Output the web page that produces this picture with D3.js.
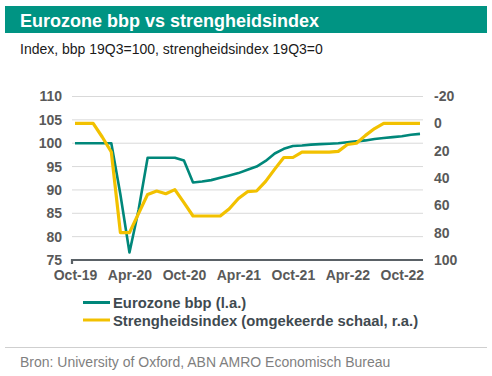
<!DOCTYPE html>
<html><head><meta charset="utf-8">
<script src="https://cdn.jsdelivr.net/npm/d3@7"></script>
<style>
html,body{margin:0;padding:0;background:#fff;}
text{font-family:"Liberation Sans",Arial,sans-serif;}
</style></head><body>
<svg id="c" width="492" height="376"></svg>
<script>
const months = ["Oct-19","Nov-19","Dec-19","Jan-20","Feb-20","Mar-20","Apr-20","May-20","Jun-20","Jul-20","Aug-20","Sep-20",
"Oct-20","Nov-20","Dec-20","Jan-21","Feb-21","Mar-21","Apr-21","May-21","Jun-21","Jul-21","Aug-21","Sep-21",
"Oct-21","Nov-21","Dec-21","Jan-22","Feb-22","Mar-22","Apr-22","May-22","Jun-22","Jul-22","Aug-22","Sep-22",
"Oct-22","Nov-22","Dec-22"];
const gdp = [100,100,100,100,100,89,76.6,85.7,96.9,96.9,96.9,96.9,
96.3,91.6,91.8,92.1,92.6,93.1,93.6,94.3,95.0,96.2,97.8,98.8,
99.4,99.5,99.7,99.8,99.9,100.0,100.2,100.4,100.6,100.9,101.1,101.3,
101.5,101.8,102.0];
const stringency = [0,0,0,10,21,80,80,66,52,49.5,51.5,48.5,
58,67.8,67.8,67.8,67.8,62.5,55,50,49.5,42.5,33.5,25,
25,21,21,21,21,20.5,15.5,14.6,8.8,3.8,0,0,
0,0,0];
const xTickLabels = ["Oct-19","Apr-20","Oct-20","Apr-21","Oct-21","Apr-22","Oct-22"];
const leftTicks = [75,80,85,90,95,100,105,110];
const rightTicks = [-20,0,20,40,60,80,100];
const title = "Eurozone bbp vs strengheidsindex";
const subtitle = "Index, bbp 19Q3=100, strengheidsindex 19Q3=0";
const legendLabels = ["Eurozone bbp (l.a.)","Strengheidsindex (omgekeerde schaal, r.a.)"];
const source = "Bron: University of Oxford, ABN AMRO Economisch Bureau";

const green = "#00877A", yellow = "#F2C100", teal = "#009483";
const svg = d3.select("#c");
const FF = "Liberation Sans, Arial, sans-serif";

svg.append("rect").attr("x",5).attr("y",6).attr("width",482).attr("height",27).attr("fill",teal);
svg.append("text").attr("x",20).attr("y",27).attr("fill","#fff").attr("font-size",18).attr("font-weight","bold").text(title);
svg.append("text").attr("x",20).attr("y",54).attr("fill","#1a1a1a").attr("font-size",14).text(subtitle);

const x = d3.scalePoint().domain(months).range([75,420]);
const yL = d3.scaleLinear().domain([75,110]).range([260,96.5]);
const yR = d3.scaleLinear().domain([-20,100]).range([96,260]);

// gridlines
svg.append("g").selectAll("line").data(leftTicks.filter(d=>d!==75)).join("line")
  .attr("x1",72).attr("x2",423).attr("y1",d=>yL(d)).attr("y2",d=>yL(d))
  .attr("stroke","#d9d9d9").attr("stroke-width",1);

// left axis
const gl = svg.append("g").attr("transform","translate(62,0)")
  .call(d3.axisLeft(yL).tickValues(leftTicks).tickSize(0).tickPadding(0).tickFormat(d=>String(d)));
gl.select(".domain").remove();
gl.selectAll("text").attr("font-size",14).attr("font-weight","bold").attr("fill","#595959").attr("font-family",FF);

// right axis
const gr = svg.append("g").attr("transform","translate(434,0)")
  .call(d3.axisRight(yR).tickValues(rightTicks).tickSize(0).tickPadding(0).tickFormat(d=>String(d)));
gr.select(".domain").remove();
gr.selectAll("text").attr("font-size",14).attr("font-weight","bold").attr("fill","#595959").attr("font-family",FF);

// x axis
const gx = svg.append("g").attr("transform","translate(0,260)")
  .call(d3.axisBottom(x).tickValues(xTickLabels).tickSize(0).tickPadding(10));
gx.select(".domain").remove();
gx.selectAll("text").attr("font-size",14).attr("font-weight","bold").attr("fill","#595959").attr("font-family",FF);
svg.append("path").attr("d","M72,264V260H423").attr("fill","none").attr("stroke","#5a6166").attr("stroke-width",2.2);

// lines
svg.append("path").datum(gdp).attr("fill","none").attr("stroke",green).attr("stroke-width",2.6)
  .attr("stroke-linejoin","round")
  .attr("d",d3.line().x((d,i)=>x(months[i])).y(d=>yL(d)));
svg.append("path").datum(stringency).attr("fill","none").attr("stroke",yellow).attr("stroke-width",3.2)
  .attr("stroke-linejoin","round")
  .attr("d",d3.line().x((d,i)=>x(months[i])).y(d=>yR(d)));

// legend
const lg = svg.append("g");
[[green,302.5,307.5],[yellow,320,325.5]].forEach((c,i)=>{
  lg.append("line").attr("x1",83).attr("x2",110).attr("y1",c[1]).attr("y2",c[1]).attr("stroke",c[0]).attr("stroke-width",3);
  lg.append("text").attr("x",113).attr("y",c[2]).attr("font-size",14.8).attr("font-weight","bold").attr("fill","#3f4a50").text(legendLabels[i]);
});

svg.append("line").attr("x1",5).attr("x2",487).attr("y1",347.5).attr("y2",347.5).attr("stroke","#cfcfcf").attr("stroke-width",1);
svg.append("text").attr("x",20).attr("y",367).attr("font-size",14).attr("fill","#7f7f7f").text(source);
</script></body></html>
